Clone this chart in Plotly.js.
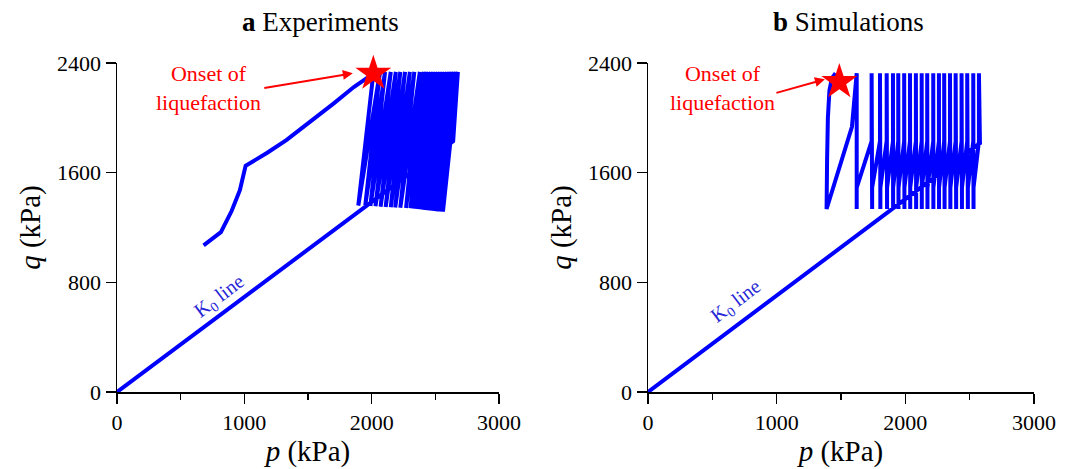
<!DOCTYPE html>
<html><head><meta charset="utf-8">
<script src="https://cdn.plot.ly/plotly-3.0.1.min.js"></script>
<style>html,body{margin:0;padding:0;background:#fff}#chart{width:1075px;height:469px}</style>
</head><body><div id="chart"></div><script>
// ---------- Data (p, q in kPa) ----------
// Panel a: Experiments
const expK0P = [0, 2640];
const expK0Q = [0, 1830];
const expTopP = [2677, 2662, 2645, 2628, 2610, 2592, 2574, 2556, 2538, 2520, 2502, 2484, 2466, 2448, 2430, 2410, 2378, 2335, 2300, 2262, 2225, 2190, 2150, 2105, 2065, 2013];
const expTopQ = [2335, 2335, 2335, 2335, 2335, 2335, 2335, 2335, 2335, 2335, 2335, 2335, 2335, 2335, 2335, 2335, 2335, 2335, 2335, 2335, 2335, 2335, 2335, 2335, 2335, 2323];
const expBotP = [2560, 2545, 2528, 2510, 2492, 2474, 2456, 2438, 2420, 2402, 2384, 2366, 2348, 2330, 2305, 2270, 2225, 2185, 2150, 2110, 2070, 2030, 1990, 1950, 1895];
const expBotQ = [1316, 1316, 1318, 1318, 1320, 1322, 1324, 1326, 1328, 1330, 1332, 1334, 1336, 1338, 1340, 1342, 1344, 1346, 1348, 1350, 1352, 1355, 1358, 1362, 1360];
const expPostP = [2013, 1960, 1860, 1700, 1500, 1330, 1180, 1060, 1010, 965, 900, 816, 760, 680];
const expPostQ = [2323, 2290, 2225, 2104, 1960, 1837, 1745, 1680, 1650, 1472, 1320, 1166, 1125, 1070];
const expStar = {p: [2013], q: [2323]};

// Panel b: Simulations
const simK0P = [0, 2580];
const simK0Q = [0, 1815];
const simTopP = [2572, 2528, 2481, 2437, 2391, 2347, 2302, 2261, 2217, 2170, 2127, 2082, 2036, 1991, 1945, 1904, 1855, 1803, 1738, 1622];
const simTopQ = 2325;
const simKneeHiP = [2572, 2528, 2481, 2437, 2391, 2347, 2302, 2261, 2217, 2170, 2127, 2082, 2036, 1991, 1945, 1904, 1855, 1803, 1738, 1585];
const simKneeHiQ = [1830, 1830, 1830, 1830, 1830, 1830, 1830, 1830, 1830, 1830, 1830, 1830, 1830, 1830, 1830, 1830, 1830, 1830, 1830, 1935];
const simKneeLoQ = [1490, 1490, 1490, 1490, 1490, 1490, 1490, 1490, 1490, 1490, 1490, 1490, 1490, 1490, 1490, 1490, 1490, 1490, 1490, 1335];
const simBotP = [2530, 2486, 2440, 2395, 2350, 2305, 2262, 2218, 2172, 2128, 2084, 2038, 1993, 1947, 1905, 1858, 1806, 1742, 1622, 1388];
const simBotQ = 1335;
const simLoopP = [1388, 1392, 1398, 1410, 1430, 1458];
const simLoopQ = [1335, 1700, 2000, 2200, 2290, 2325];
const simStar = {p: [1487], q: [2262]};

// ---------- Build paths ----------
const aP = [...expK0P], aQ = [...expK0Q];
for (let i = 0; i < expTopP.length; i++) {
  aP.push(expTopP[i]); aQ.push(expTopQ[i]);
  if (i < expBotP.length) { aP.push(expBotP[i]); aQ.push(expBotQ[i]); }
}
for (let i = 1; i < expPostP.length; i++) { aP.push(expPostP[i]); aQ.push(expPostQ[i]); }

const bP = [...simK0P], bQ = [...simK0Q];
for (let i = 0; i < simTopP.length; i++) {
  bP.push(simTopP[i]); bQ.push(simTopQ);
  bP.push(simKneeHiP[i]); bQ.push(simKneeHiQ[i]);
  bP.push(simBotP[i]); bQ.push(simKneeLoQ[i]);
  bP.push(simBotP[i]); bQ.push(simBotQ);
}
for (let i = 1; i < simLoopP.length; i++) { bP.push(simLoopP[i]); bQ.push(simLoopQ[i]); }

const BLUE = '#0000ff', RED = '#ff0000';
const FONT = 'Liberation Serif';

const traces = [
  {x: aP, y: aQ, xaxis: 'x', yaxis: 'y', mode: 'lines', line: {color: BLUE, width: 4}, cliponaxis: false, hoverinfo: 'skip'},
  {x: expStar.p, y: expStar.q, xaxis: 'x', yaxis: 'y', mode: 'markers', marker: {symbol: 'star', size: 27, color: RED, line: {width: 0}}, cliponaxis: false},
  {x: bP, y: bQ, xaxis: 'x2', yaxis: 'y2', mode: 'lines', line: {color: BLUE, width: 4}, cliponaxis: false, hoverinfo: 'skip'},
  {x: simStar.p, y: simStar.q, xaxis: 'x2', yaxis: 'y2', mode: 'markers', marker: {symbol: 'star', size: 27, color: RED, line: {width: 0}}, cliponaxis: false}
];

function xax(domain, anchor) {
  return {
    domain: domain, anchor: anchor, range: [0, 3000], tickvals: [0, 1000, 2000, 3000],
    ticks: 'outside', ticklen: 10, tickwidth: 1.5, tickcolor: '#000',
    minor: {ticks: 'outside', tickvals: [500, 1500, 2500], ticklen: 6, tickwidth: 1.5, tickcolor: '#000', showgrid: false},
    showline: true, linecolor: '#000', linewidth: 1.5, showgrid: false, zeroline: false,
    tickfont: {family: FONT, size: 22, color: '#000'},
    title: {text: '<i>p</i> (kPa)', font: {family: FONT, size: 29, color: '#000'}, standoff: 6},
    fixedrange: true
  };
}
function yax(domain, anchor) {
  return {
    domain: domain, anchor: anchor, range: [0, 2400], tickvals: [0, 800, 1600, 2400],
    ticks: 'outside', ticklen: 10, tickwidth: 1.5, tickcolor: '#000',
    showline: true, linecolor: '#000', linewidth: 1.5, showgrid: false, zeroline: false,
    tickfont: {family: FONT, size: 22, color: '#000'},
    title: {text: '<i>q</i> (kPa)', font: {family: FONT, size: 29, color: '#000'}, standoff: 8},
    fixedrange: true
  };
}

const W = 1075, H = 469;
const yDom = [(H - 392) / H, (H - 63) / H];
const layout = {
  width: W, height: H, margin: {l: 0, r: 0, t: 0, b: 0},
  paper_bgcolor: '#fff', plot_bgcolor: 'rgba(0,0,0,0)', showlegend: false,
  font: {family: FONT, color: '#000'},
  xaxis: xax([117 / W, 499 / W], 'y'),
  yaxis: yax(yDom, 'x'),
  xaxis2: xax([648 / W, 1034 / W], 'y2'),
  yaxis2: yax(yDom, 'x2'),
  annotations: [
    {xref: 'paper', yref: 'paper', x: 320 / W, y: 1 - 22 / H, xanchor: 'center', yanchor: 'middle', text: '<b>a</b> Experiments', showarrow: false, font: {family: FONT, size: 27, color: '#000'}},
    {xref: 'paper', yref: 'paper', x: 848 / W, y: 1 - 22 / H, xanchor: 'center', yanchor: 'middle', text: '<b>b</b> Simulations', showarrow: false, font: {family: FONT, size: 27, color: '#000'}},
    // Onset of liquefaction (a)
    {xref: 'x', yref: 'y', x: 720, y: 2215, xanchor: 'center', yanchor: 'middle', text: 'Onset of<br>liquefaction', showarrow: false, font: {family: FONT, size: 22, color: RED}, align: 'center'},
    {xref: 'x', yref: 'y', x: 1852, y: 2325, ax: -90, ay: 15, text: '', showarrow: true, arrowhead: 2, arrowsize: 1, arrowwidth: 2, arrowcolor: RED},
    // Onset of liquefaction (b)
    {xref: 'x2', yref: 'y2', x: 580, y: 2215, xanchor: 'center', yanchor: 'middle', text: 'Onset of<br>liquefaction', showarrow: false, font: {family: FONT, size: 22, color: RED}, align: 'center'},
    {xref: 'x2', yref: 'y2', x: 1375, y: 2281, ax: -50, ay: 14, text: '', showarrow: true, arrowhead: 2, arrowsize: 1, arrowwidth: 2, arrowcolor: RED},
    // K0 line labels
    {xref: 'x', yref: 'y', x: 808, y: 700, text: 'K<sub>0</sub> line', textangle: -37, showarrow: false, font: {family: FONT, size: 20, color: '#2626d6'}},
    {xref: 'x2', yref: 'y2', x: 690, y: 660, text: 'K<sub>0</sub> line', textangle: -37, showarrow: false, font: {family: FONT, size: 20, color: '#2626d6'}}
  ]
};

Plotly.newPlot('chart', traces, layout, {displayModeBar: false, staticPlot: true});
</script></body></html>
